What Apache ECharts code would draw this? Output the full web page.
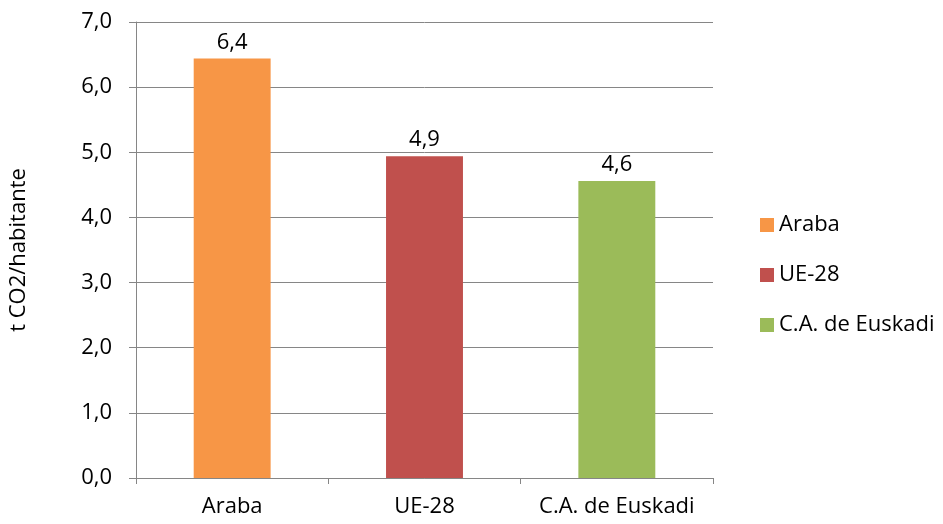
<!DOCTYPE html>
<html>
<head>
<meta charset="utf-8">
<script src="https://cdn.jsdelivr.net/npm/echarts@6/dist/echarts.min.js"></script>
<style>
  html, body { margin: 0; padding: 0; background: #fff; }
  #chart { width: 943px; height: 524px; }
</style>
</head>
<body>
<div id="chart"></div>
<script>
const categories = ['Araba', 'UE-28', 'C.A. de Euskadi'];
const values = [6.44, 4.94, 4.56];
const colors = ['#F79646', '#C0504D', '#9BBB59'];
const yTicks = { min: 0, max: 7, interval: 1 };

const myChart = echarts.init(document.getElementById('chart'));
const fontFamily = '"Open Sans", sans-serif';

// one series per region so each gets its own legend entry
const series = categories.map((name, i) => ({
  name: name,
  type: 'bar',
  stack: 'total',
  barWidth: '40%',
  data: categories.map((c, j) => (j === i ? values[i] : '-')),
  itemStyle: { color: colors[i] },
  label: {
    show: true,
    position: 'top',
    distance: 5,
    color: '#000',
    fontSize: 22,
    fontFamily: fontFamily,
    formatter: p => p.value.toFixed(1).replace('.', ',')
  }
}));

const option = {
  animation: false,
  grid: { left: 133, right: 230, top: 22, bottom: 46 },
  legend: {
    orient: 'vertical',
    left: 755,
    top: 209,
    icon: 'rect',
    itemWidth: 14,
    itemHeight: 14,
    itemGap: 28,
    textStyle: { fontSize: 22, fontFamily: fontFamily, color: '#000' },
    data: categories
  },
  xAxis: {
    type: 'category',
    data: categories,
    axisLine: { lineStyle: { color: '#868686' } },
    axisTick: { show: true, length: 6, lineStyle: { color: '#868686' } },
    axisLabel: {
      interval: 0,
      hideOverlap: false,
      margin: 18,
      fontSize: 22,
      fontFamily: fontFamily,
      color: '#000'
    }
  },
  yAxis: {
    type: 'value',
    min: yTicks.min,
    max: yTicks.max,
    interval: yTicks.interval,
    name: 't CO2/habitante',
    nameLocation: 'middle',
    nameGap: 106,
    nameTextStyle: { fontSize: 22, fontFamily: fontFamily, color: '#000' },
    axisLine: { show: true, lineStyle: { color: '#868686' } },
    axisTick: { show: true, length: 7, lineStyle: { color: '#868686' } },
    axisLabel: {
      margin: 24,
      fontSize: 22,
      fontFamily: fontFamily,
      color: '#000',
      formatter: v => v.toFixed(1).replace('.', ',')
    },
    splitLine: { show: true, lineStyle: { color: '#868686' } }
  },
  series: series
};

myChart.setOption(option);
</script>
</body>
</html>
